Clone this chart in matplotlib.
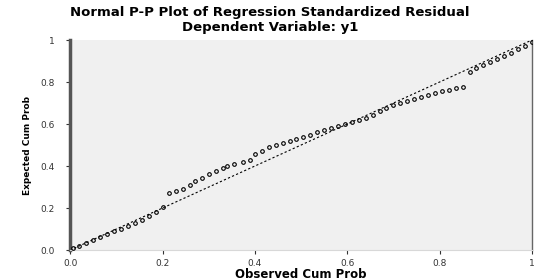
"""Normal P-P plot of regression standardized residual (SPSS style)."""

import matplotlib
matplotlib.use("Agg")
import matplotlib.pyplot as plt

# Observed vs expected cumulative probabilities
observed = [
    0.005, 0.02, 0.035, 0.05, 0.065, 0.08, 0.095, 0.11, 0.125, 0.14,
    0.155, 0.17, 0.185, 0.20,
    0.215, 0.23, 0.245, 0.26,
    0.27, 0.285, 0.30, 0.315, 0.33, 0.34,
    0.355, 0.375, 0.39,
    0.40, 0.415, 0.43, 0.445, 0.46, 0.475,
    0.49, 0.505, 0.52, 0.535, 0.55, 0.565, 0.58, 0.595, 0.61, 0.625,
    0.64, 0.655, 0.67, 0.685, 0.70,
    0.715, 0.73, 0.745, 0.76, 0.775, 0.79, 0.805, 0.82, 0.835, 0.85,
    0.865, 0.88, 0.895, 0.91, 0.925, 0.94, 0.955, 0.97, 0.985, 1.0,
]
expected = [
    0.01, 0.02, 0.035, 0.05, 0.06, 0.075, 0.09, 0.10, 0.115, 0.13,
    0.145, 0.16, 0.18, 0.205,
    0.27, 0.28, 0.29, 0.31,
    0.33, 0.345, 0.36, 0.375, 0.39, 0.40,
    0.41, 0.42, 0.43,
    0.455, 0.47, 0.49, 0.50, 0.51, 0.52,
    0.53, 0.54, 0.55, 0.56, 0.57, 0.58, 0.59, 0.60, 0.61, 0.62,
    0.63, 0.645, 0.66, 0.675, 0.69,
    0.70, 0.71, 0.72, 0.73, 0.74, 0.75, 0.755, 0.76, 0.77, 0.775,
    0.85, 0.865, 0.88, 0.895, 0.91, 0.925, 0.94, 0.955, 0.97, 0.99,
]
tick_values = [0.0, 0.2, 0.4, 0.6, 0.8, 1.0]
tick_labels = ["0.0", "0.2", "0.4", "0.6", "0.8", "1"]

fig = plt.figure(figsize=(5.4, 2.8), dpi=100)
ax = fig.add_axes([0.13, 0.107, 0.855, 0.75])
ax.set_facecolor("#f0f0f0")

# Reference diagonal
ax.plot([0, 1], [0, 1], color="black", linewidth=0.8,
        linestyle=(0, (2, 2)), zorder=2)

# Observed points
ax.plot(observed, expected, linestyle="none", marker="o", markersize=2.6,
        markerfacecolor="none", markeredgecolor="black",
        markeredgewidth=0.8, zorder=3)

ax.set_xlim(0, 1)
ax.set_ylim(0, 1)
ax.set_xticks(tick_values)
ax.set_xticklabels(tick_labels)
ax.set_yticks(tick_values)
ax.set_yticklabels(tick_labels)
ax.tick_params(labelsize=6.5, length=3, width=0.8, colors="#333333")
ax.tick_params(axis="y", pad=8)

ax.spines["left"].set_linewidth(2.5)
ax.spines["left"].set_color("#555555")
ax.spines["right"].set_linewidth(1.0)
ax.spines["right"].set_color("#666666")
ax.spines["top"].set_visible(False)
ax.spines["bottom"].set_linewidth(0.8)
ax.spines["bottom"].set_color("#d8d8d8")

ax.set_xlabel("Observed Cum Prob", fontsize=8.5, fontweight="bold",
              labelpad=0)
ax.set_ylabel("Expected Cum Prob", fontsize=6.5, fontweight="bold",
              labelpad=6)

fig.text(0.5, 0.957, "Normal P-P Plot of Regression Standardized Residual",
         ha="center", va="center", fontsize=9.5, fontweight="bold")
fig.text(0.5, 0.902, "Dependent Variable: y1",
         ha="center", va="center", fontsize=9.5, fontweight="bold")

fig.savefig("out.png", dpi=100)
